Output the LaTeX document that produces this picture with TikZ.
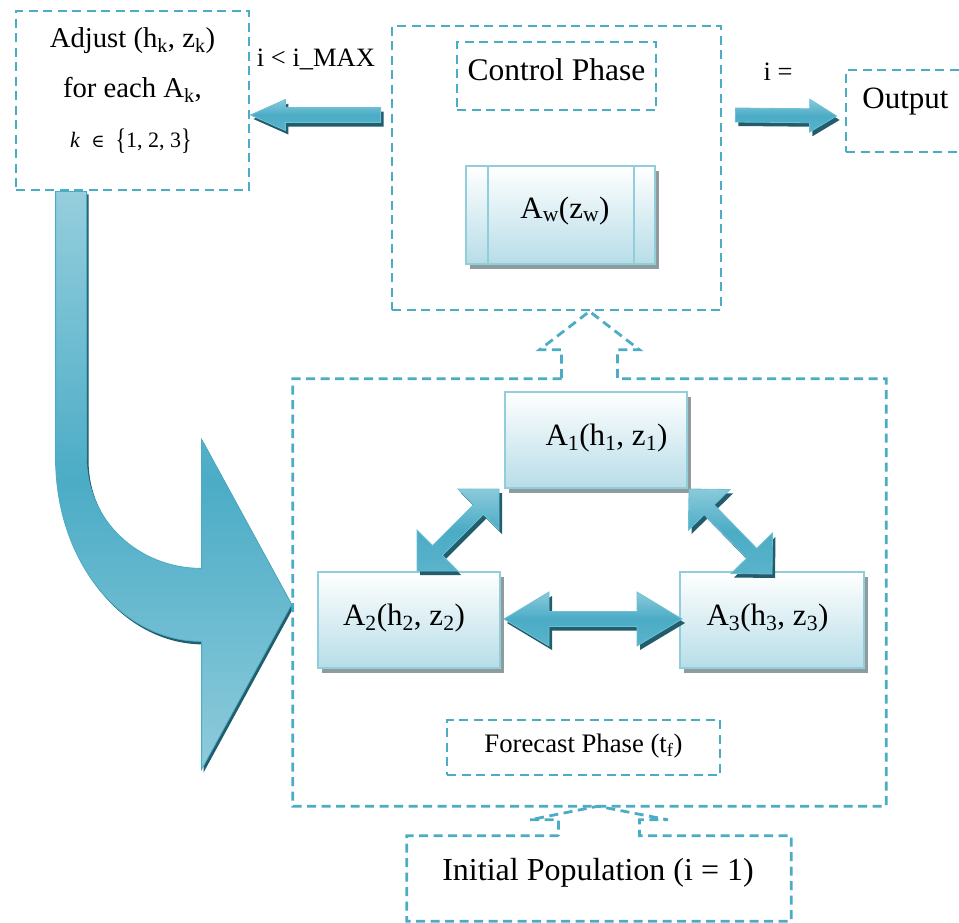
\documentclass[tikz,border=0pt]{standalone}
\usepackage{graphicx}
\usepackage{fontspec}
\setmainfont{Liberation Serif}
\newfontfamily\symfont{DejaVu Serif}
\usetikzlibrary{calc,shadows}

\definecolor{aqua}{HTML}{4BACC6}
\definecolor{aqualight}{HTML}{92CDDC}
\definecolor{aquapale}{HTML}{B7DDE8}
\definecolor{aquadark}{HTML}{215D6C}
\definecolor{arrowtop}{HTML}{8ACADA}
\definecolor{arrowedge}{HTML}{6EC0D4}
\definecolor{bigtop}{HTML}{95CEDD}
\definecolor{bigbottom}{HTML}{8FCBDB}
\definecolor{boxshade}{HTML}{8F9C9E}

\tikzset{
  dashbox/.style={draw=aqua, line width=2.8pt, dash pattern=on 9pt off 5.5pt,
    line join=miter, rectangle, inner sep=0pt},
  hiddenbox/.style={rectangle, inner sep=0pt, draw=none},
  agentbox/.style={rectangle, inner sep=0pt, draw=aqualight, line width=2pt,
    top color=white, bottom color=aquapale,
    drop shadow={shadow xshift=4pt, shadow yshift=-5pt, fill=boxshade, opacity=1}},
  blockarrow/.style={draw=arrowedge, line width=0.8pt, line join=miter,
    top color=arrowtop, bottom color=aqua!92!white, middle color=aqua,
    drop shadow={shadow xshift=3pt, shadow yshift=-4pt, fill=aquadark, opacity=1}},
  bigarrow/.style={draw=aqua, line width=0.8pt,
    top color=bigtop, bottom color=bigbottom, middle color=aqua,
    drop shadow={shadow xshift=2pt, shadow yshift=-3pt, fill=aquadark, opacity=1}},
  lbl/.style={inner sep=0pt, anchor=base, text=black},
  fmain/.style={font=\fontsize{31}{36}\selectfont},
  fadjust/.style={font=\fontsize{28.7}{34}\selectfont},
  fsmall/.style={font=\fontsize{26.5}{31}\selectfont},
  fbig/.style={font=\fontsize{32}{38}\selectfont},
}

% block arrow with one head: tail, tip, head length, head half width, shaft half width
\newcommand\SingleBlock[5]{%
  \path[blockarrow]
    ($(#1)!#5!90:(#2)$) -- ($(#2)!#3!(#1)!#5!-90:(#1)$) -- ($(#2)!#3!(#1)!#4!-90:(#1)$)
    -- (#2) -- ($(#2)!#3!(#1)!#4!90:(#1)$) -- ($(#2)!#3!(#1)!#5!90:(#1)$)
    -- ($(#1)!#5!-90:(#2)$) -- cycle;}

% block arrow with a head at both ends
\newcommand\DoubleBlock[5]{%
  \path[blockarrow]
    (#1) -- ($(#1)!#3!(#2)!#4!90:(#2)$) -- ($(#1)!#3!(#2)!#5!90:(#2)$)
    -- ($(#2)!#3!(#1)!#5!-90:(#1)$) -- ($(#2)!#3!(#1)!#4!-90:(#1)$)
    -- (#2) -- ($(#2)!#3!(#1)!#4!90:(#1)$) -- ($(#2)!#3!(#1)!#5!90:(#1)$)
    -- ($(#1)!#3!(#2)!#5!-90:(#2)$) -- ($(#1)!#3!(#2)!#4!-90:(#2)$) -- cycle;}

% tall braces for the index set
\newcommand\tallbrace[1]{\raisebox{-0.12em}{\scalebox{1}[1.35]{#1}}}

\begin{document}
\begin{tikzpicture}[x=1pt, y=-1pt]
  \fill[white] (0,0) rectangle (959,922);
  \useasboundingbox (0,0) rectangle (959,922);

  % frames
  \node[dashbox, minimum width=233pt, minimum height=179pt] (adjust) at (132.5,100.5) {};
  \node[dashbox, minimum width=329pt, minimum height=284pt] (ctrl) at (556.5,168) {};
  \node[dashbox, minimum width=199pt, minimum height=68pt] (ctrlphase) at (556.5,76) {};
  \node[dashbox, minimum width=124pt, minimum height=82pt] (output) at (908,111) {};
  \node[hiddenbox, minimum width=593pt, minimum height=427pt] (forecast) at (589.5,592.5) {};
  \node[dashbox, minimum width=273pt, minimum height=55pt] (fphase) at (583.5,747.5) {};
  \node[hiddenbox, minimum width=384pt, minimum height=85pt] (initial) at (599,878.5) {};

  % big bent arrow from the adjust step back into the forecast phase
  \coordinate (bigtail) at ($(adjust.south west)+(41,0)$);
  \begin{scope}[shift={(bigtail)}]
    \path[bigarrow] (0,0) -- (0,267) .. controls (0,369) and (65,450) .. (146,450)
      -- (146,578) -- (236,413) -- (146,248) -- (146,377)
      .. controls (82,377) and (31,328) .. (31,267) -- (31,0) -- cycle;
  \end{scope}

  % forecast frame with its hollow arrow up to the control phase
  \coordinate (fctip) at (forecast.north |- ctrl.south);
  \draw[dashbox]
    ($(forecast.north)+(-28,0)$) -- (forecast.north west) -- (forecast.south west)
    -- (forecast.south east) -- (forecast.north east) -- ($(forecast.north)+(28,0)$)
    -- ($(forecast.north)+(28,-29)$) -- ($(forecast.north)+(50,-29)$) -- (fctip)
    -- ($(forecast.north)+(-50,-29)$) -- ($(forecast.north)+(-28,-29)$) -- cycle;

  % initial population frame with its hollow arrow up to the forecast frame
  \coordinate (iftip) at ($(initial.north |- forecast.south)+(-1,0)$);
  \draw[dashbox]
    ($(initial.north)+(-40.5,0)$) -- (initial.north west) -- (initial.south west)
    -- (initial.south east) -- (initial.north east) -- ($(initial.north)+(40.5,0)$)
    -- ($(initial.north)+(40.5,-16)$) -- ($(initial.north)+(69,-16)$) -- (iftip)
    -- ($(initial.north)+(-69,-16)$) -- ($(initial.north)+(-40.5,-16)$) -- cycle;

  % agents
  \node[agentbox, minimum width=189pt, minimum height=98pt] (aw) at (560.5,215) {};
  \draw[aqualight, line width=2pt] ($(aw.north west)+(23,0)$) -- ($(aw.south west)+(23,0)$);
  \draw[aqualight, line width=2pt] ($(aw.north east)+(-22,0)$) -- ($(aw.south east)+(-22,0)$);
  \node[agentbox, minimum width=182pt, minimum height=96pt] (a1) at (596,440) {};
  \node[agentbox, minimum width=182pt, minimum height=96pt] (a2) at (409,620) {};
  \node[agentbox, minimum width=184pt, minimum height=96pt] (a3) at (772,620) {};

  % block arrows
  \coordinate (ltail) at ($(ctrl.west)+(-10,-53)$);
  \coordinate (ltip) at (adjust.east |- ltail);
  \SingleBlock{ltail}{ltip}{35pt}{15.5pt}{7.5pt}
  \coordinate (rtail) at ($(ctrl.east |- ltail)+(13,0)$);
  \coordinate (rtip) at ($(output.west |- ltail)+(-8,1)$);
  \SingleBlock{rtail}{rtip}{27pt}{16.5pt}{7pt}
  \coordinate (h2) at ($(a2.east)+(3,-1)$);
  \coordinate (h3) at ($(a3.west)+(3,-1)$);
  \DoubleBlock{h2}{h3}{45pt}{27pt}{7.5pt}
  \coordinate (d2) at ($(a2.north)+(8,0)$);
  \coordinate (d1) at ($(a1.south west)+(-5,0)$);
  \DoubleBlock{d2}{d1}{29pt}{29pt}{7pt}
  \coordinate (e1) at ($(a1.south east)+(1,0)$);
  \coordinate (e3) at ($(a3.north)+(0,3)$);
  \DoubleBlock{e1}{e3}{29pt}{29pt}{7pt}

  % texts
  \node[lbl, fadjust] (tadj1) at (132.5,47) {Adjust (h\textsubscript{k}, z\textsubscript{k})};
  \node[lbl, fadjust] (tadj2) at (132.5,97) {for each A\textsubscript{k},};
  \node[lbl, font=\fontsize{22}{26}\selectfont] (tadj3) at (131,147)
    {\textit{k}\enspace{\symfont\fontsize{18}{22}\selectfont ∈}\enspace\tallbrace{\{}1, 2, 3\tallbrace{\}}};
  \node[lbl, fsmall] (timax) at (316,66) {i < i\_MAX};
  \node[lbl, fsmall] (tieq) at (778,80) {i =};
  \node[lbl, fmain] (tout) at (905.5,108) {Output};
  \node[lbl, font=\fontsize{31.5}{36}\selectfont] (tctrl) at (556.5,80) {Control Phase};
  \node[lbl, fmain] (taw) at (565,218) {A\textsubscript{w}(z\textsubscript{w})};
  \node[lbl, fmain] (ta1) at (606.5,445) {A\textsubscript{1}(h\textsubscript{1}, z\textsubscript{1})};
  \node[lbl, fmain] (ta2) at (404,625) {A\textsubscript{2}(h\textsubscript{2}, z\textsubscript{2})};
  \node[lbl, fmain] (ta3) at (767.5,625) {A\textsubscript{3}(h\textsubscript{3}, z\textsubscript{3})};
  \node[lbl, font=\fontsize{26.7}{31}\selectfont] (tfc) at (583.5,752) {Forecast Phase (t\textsubscript{f})};
  \node[lbl, fbig] (tinit) at (598,880) {Initial Population (i = 1)};
\end{tikzpicture}
\end{document}
